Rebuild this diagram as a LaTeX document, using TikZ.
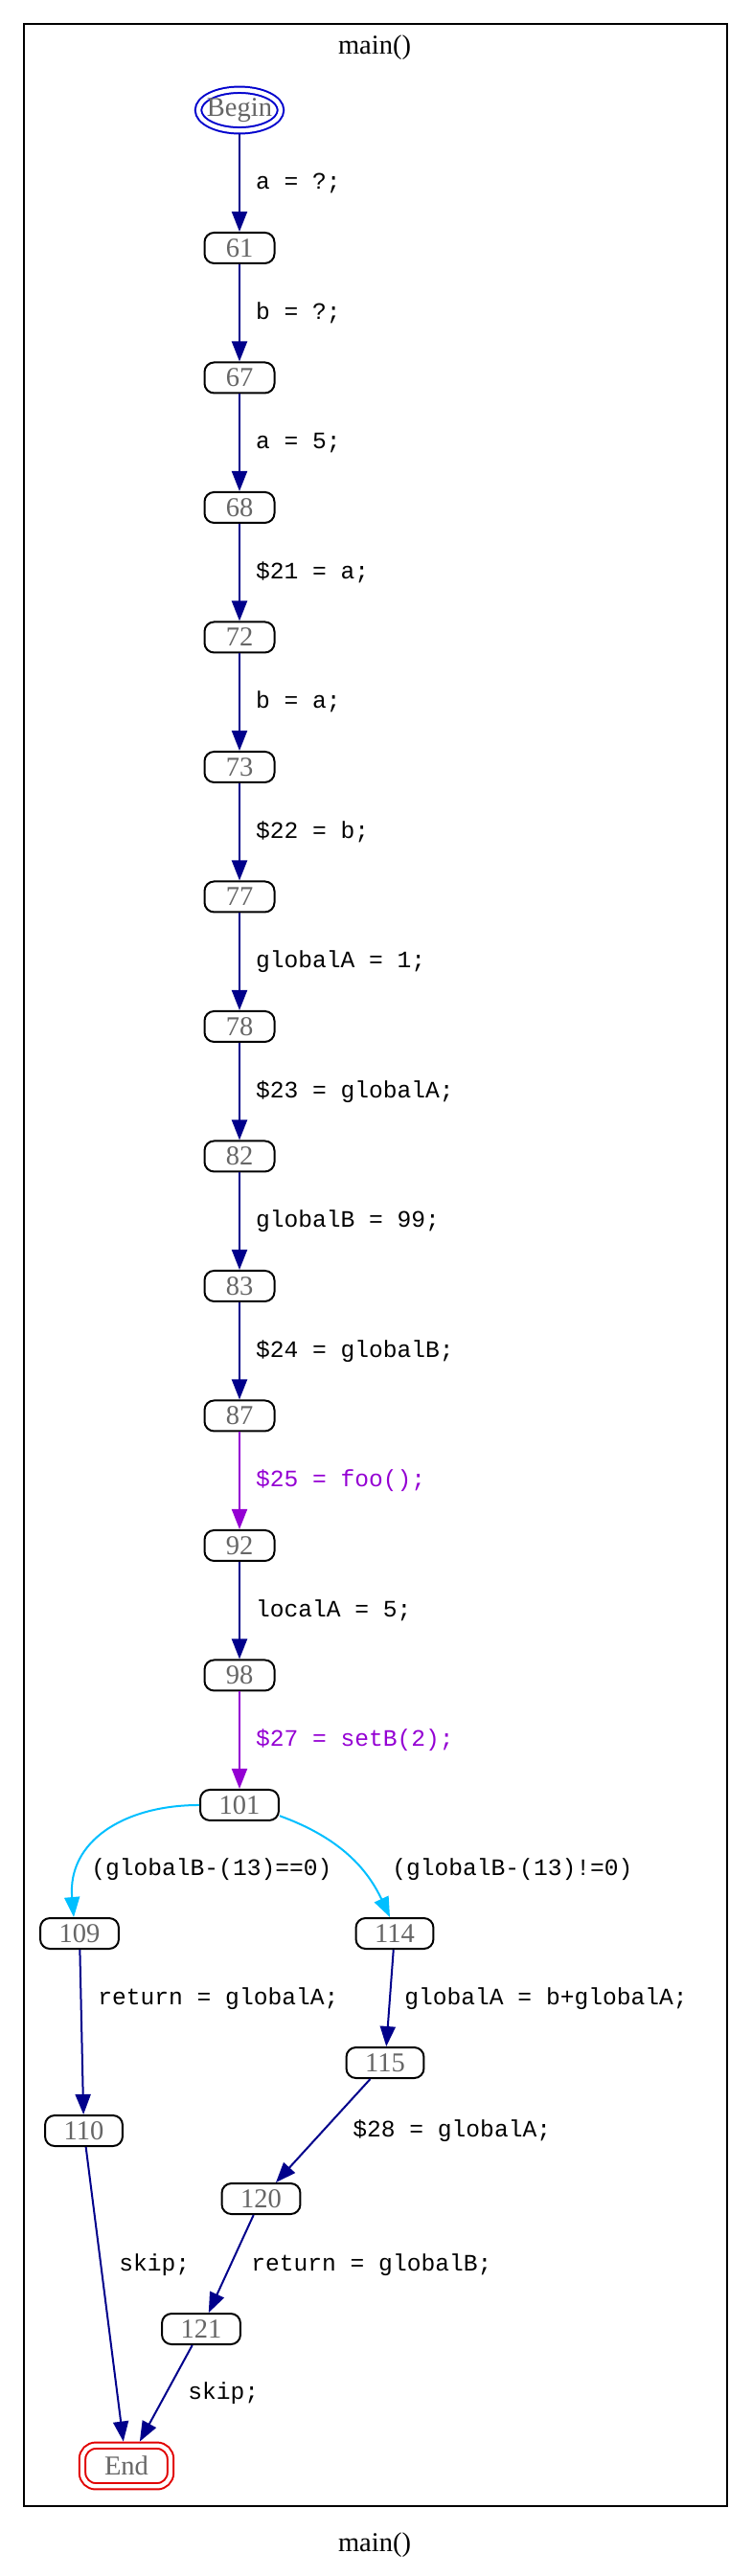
\documentclass[tikz,border=0pt]{standalone}
\usepackage{fontspec}
\setmainfont{Liberation Serif}
\setmonofont{Liberation Mono}
\usetikzlibrary{positioning,shapes.geometric,arrows.meta}
\definecolor{edgeblue}{RGB}{0,0,139}
\definecolor{callviolet}{RGB}{148,0,211}
\definecolor{condcyan}{RGB}{0,191,255}
\definecolor{beginblue}{RGB}{0,0,205}
\definecolor{endred}{RGB}{225,0,0}

\begin{document}
\begin{tikzpicture}[
  x=1pt, y=1pt,
  node distance=50.75pt,
  stmt/.style={
    draw, rounded corners=5pt, line width=1pt, text=black!60,
    minimum width=36.5pt, minimum height=16pt,
    inner xsep=9.8pt, inner ysep=0pt,
    font=\fontsize{14.25}{16}\selectfont
  },
  startnode/.style={
    ellipse, draw=beginblue, double, double distance=2.2pt, line width=1pt,
    minimum width=43pt, minimum height=21.25pt, inner sep=0pt, outer sep=2.1pt,
    text=black!60, font=\fontsize{14.25}{16}\selectfont
  },
  endnode/.style={
    draw=endred, double, double distance=2.2pt, line width=1pt, rounded corners=7pt,
    minimum width=46pt, minimum height=21.25pt, inner sep=0pt, outer sep=2.1pt,
    text=black!60, font=\fontsize{14.25}{16}\selectfont
  },
  title/.style={font=\fontsize{14.25}{16}\selectfont},
  flow/.style={draw=edgeblue, line width=1pt, -{Triangle[length=10.5pt,width=8pt]}},
  call/.style={flow, draw=callviolet},
  cond/.style={flow, draw=condcyan},
  freelbl/.style={
    anchor=west, inner sep=0pt,
    font=\ttfamily\fontsize{12.3}{14}\selectfont
  },
  lbl/.style={freelbl, xshift=8pt}
  ]
  \useasboundingbox (0,0) rectangle (392.5,-1345);
  \draw[line width=1pt] (12.5,-12.5) rectangle (379.5,-1308.5);
  \node[title] (ttl) at (195.5,-25) {main()};
  \node[title] (cap) at (195.5,-1329) {main()};

  \node[startnode] (nBegin) at (125,-57.5) {\makebox[0pt]{Begin}};
  \node[stmt, below=of nBegin] (n61) {61};
  \node[stmt, below=of n61] (n67) {67};
  \node[stmt, below=of n67] (n68) {68};
  \node[stmt, below=of n68] (n72) {72};
  \node[stmt, below=of n72] (n73) {73};
  \node[stmt, below=of n73] (n77) {77};
  \node[stmt, below=of n77] (n78) {78};
  \node[stmt, below=of n78] (n82) {82};
  \node[stmt, below=of n82] (n83) {83};
  \node[stmt, below=of n83] (n87) {87};
  \node[stmt, below=of n87] (n92) {92};
  \node[stmt, below=of n92] (n98) {98};
  \node[stmt, below=of n98] (n101) {101};
  \node[stmt] (n109) at (41.5,-1009.5) {109};
  \node[stmt] (n114) at (206,-1009.5) {114};
  \node[stmt] (n115) at (201,-1077) {115};
  \node[stmt] (n110) at (43.75,-1112.5) {110};
  \node[stmt] (n120) at (136.25,-1148) {120};
  \node[stmt] (n121) at (105,-1216) {121};
  \node[endnode] (nEnd) at (66,-1287.5) {End};

  \draw[flow] (nBegin) -- node[lbl] (l1) {a = ?;} (n61);
  \draw[flow] (n61) -- node[lbl] (l2) {b = ?;} (n67);
  \draw[flow] (n67) -- node[lbl] (l3) {a = 5;} (n68);
  \draw[flow] (n68) -- node[lbl] (l4) {\$21 = a;} (n72);
  \draw[flow] (n72) -- node[lbl] (l5) {b = a;} (n73);
  \draw[flow] (n73) -- node[lbl] (l6) {\$22 = b;} (n77);
  \draw[flow] (n77) -- node[lbl] (l7) {globalA = 1;} (n78);
  \draw[flow] (n78) -- node[lbl] (l8) {\$23 = globalA;} (n82);
  \draw[flow] (n82) -- node[lbl] (l9) {globalB = 99;} (n83);
  \draw[flow] (n83) -- node[lbl] (l10) {\$24 = globalB;} (n87);
  \draw[call] (n87) -- node[lbl, text=callviolet] (l11) {\$25 = foo();} (n92);
  \draw[flow] (n92) -- node[lbl] (l12) {localA = 5;} (n98);
  \draw[call] (n98) -- node[lbl, text=callviolet] (l13) {\$27 = setB(2);} (n101);

  \draw[cond] (n101.west) to[out=180, in=95, looseness=1.15] ([xshift=-3pt]n109.north);
  \draw[cond] (n101.-15) to[out=-20, in=115] ([xshift=-2.5pt]n114.north);
  \node[freelbl] (l14) at (47.5,-976) {(globalB-(13)==0)};
  \node[freelbl] (l15) at (204.5,-976) {(globalB-(13)!=0)};

  \draw[flow] (n109) -- (n110);
  \draw[flow] (n114) -- (n115);
  \draw[flow] (n115) -- (n120);
  \draw[flow] (n110) -- (nEnd);
  \draw[flow] (n120) -- (n121);
  \draw[flow] (n121) -- (nEnd);
  \node[freelbl] (l16) at (51,-1043.5) {return = globalA;};
  \node[freelbl] (l17) at (211,-1043.5) {globalA = b+globalA;};
  \node[freelbl] (l18) at (184,-1112.5) {\$28 = globalA;};
  \node[freelbl] (l19) at (62,-1182.5) {skip;};
  \node[freelbl] (l20) at (131,-1182.5) {return = globalB;};
  \node[freelbl] (l21) at (98,-1249.5) {skip;};
\end{tikzpicture}
\end{document}
